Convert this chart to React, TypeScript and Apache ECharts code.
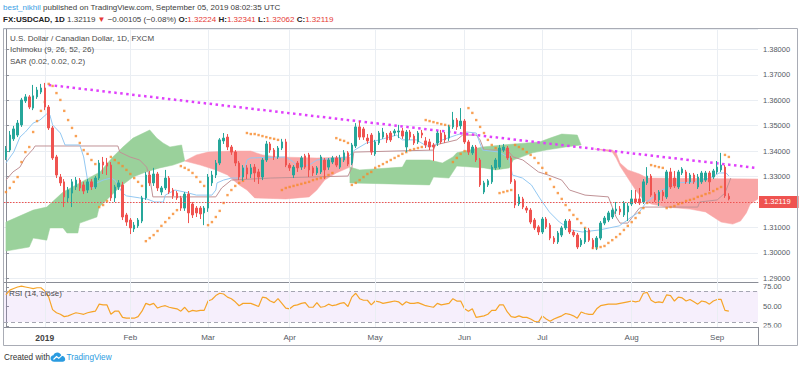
import React, { useEffect, useRef } from "react";
import * as echarts from "echarts";

const FONT = '"Liberation Sans", Arial, sans-serif';

// ---------- axis / tick data ----------
const slotCount = 194;
const categories = Array.from({ length: slotCount }, (_, i) => `d${i}`);
const monthTickIndex = [10, 32, 52, 73, 95, 118, 138, 161, 183];
const monthTickLabels = ["2019", "Feb", "Mar", "Apr", "May", "Jun", "Jul", "Aug", "Sep"];
const rsiTicks = [25, 50, 75];
const lastPrice = 1.32119;

// ---------- candles: [open, close, low, high] ----------
const candles = [
  [1.3377,1.3408,1.3365,1.3420],[1.3404,1.3463,1.3396,1.3479],[1.3448,1.3487,1.3440,1.3499],[1.3463,1.3510,1.3455,1.3522],
  [1.3503,1.3601,1.3495,1.3609],[1.3597,1.3613,1.3589,1.3624],[1.3613,1.3573,1.3565,1.3620],[1.3569,1.3617,1.3561,1.3660],
  [1.3613,1.3640,1.3605,1.3652],[1.3632,1.3648,1.3624,1.3664],[1.3648,1.3573,1.3561,1.3668],[1.3573,1.3491,1.3483,1.3581],
  [1.3491,1.3373,1.3365,1.3499],[1.3377,1.3306,1.3294,1.3385],[1.3298,1.3275,1.3263,1.3310],[1.3279,1.3220,1.3180,1.3290],
  [1.3216,1.3247,1.3200,1.3259],[1.3235,1.3279,1.3180,1.3290],[1.3259,1.3286,1.3247,1.3298],[1.3286,1.3255,1.3243,1.3294],
  [1.3267,1.3243,1.3231,1.3279],[1.3247,1.3279,1.3235,1.3290],[1.3279,1.3259,1.3247,1.3290],[1.3259,1.3294,1.3251,1.3302],
  [1.3294,1.3353,1.3286,1.3365],[1.3357,1.3345,1.3310,1.3377],[1.3353,1.3341,1.3306,1.3373],[1.3345,1.3216,1.3204,1.3357],
  [1.3216,1.3259,1.3200,1.3267],[1.3259,1.3275,1.3247,1.3286],[1.3267,1.3141,1.3129,1.3279],[1.3149,1.3121,1.3106,1.3157],
  [1.3129,1.3098,1.3074,1.3137],[1.3094,1.3109,1.3082,1.3121],[1.3106,1.3129,1.3098,1.3137],[1.3125,1.3216,1.3117,1.3224],
  [1.3216,1.3306,1.3208,1.3318],[1.3306,1.3275,1.3263,1.3322],[1.3275,1.3310,1.3263,1.3334],[1.3310,1.3255,1.3243,1.3318],
  [1.3239,1.3255,1.3227,1.3263],[1.3255,1.3294,1.3247,1.3326],[1.3294,1.3239,1.3231,1.3302],[1.3247,1.3224,1.3212,1.3255],
  [1.3235,1.3216,1.3208,1.3243],[1.3216,1.3176,1.3165,1.3224],[1.3176,1.3231,1.3165,1.3239],[1.3231,1.3157,1.3117,1.3243],
  [1.3192,1.3149,1.3137,1.3200],[1.3176,1.3157,1.3141,1.3184],[1.3176,1.3153,1.3133,1.3184],[1.3157,1.3176,1.3109,1.3184],
  [1.3176,1.3298,1.3161,1.3310],[1.3275,1.3306,1.3263,1.3322],[1.3306,1.3353,1.3294,1.3365],[1.3353,1.3444,1.3345,1.3451],
  [1.3440,1.3451,1.3428,1.3471],[1.3455,1.3416,1.3404,1.3467],[1.3416,1.3396,1.3385,1.3424],[1.3396,1.3353,1.3341,1.3404],
  [1.3353,1.3298,1.3286,1.3361],[1.3298,1.3334,1.3283,1.3345],[1.3334,1.3310,1.3290,1.3345],[1.3310,1.3334,1.3294,1.3349],
  [1.3337,1.3314,1.3279,1.3349],[1.3318,1.3298,1.3271,1.3330],[1.3298,1.3365,1.3286,1.3373],[1.3365,1.3428,1.3357,1.3440],
  [1.3428,1.3404,1.3393,1.3436],[1.3404,1.3377,1.3365,1.3412],[1.3377,1.3412,1.3369,1.3420],[1.3412,1.3436,1.3404,1.3448],
  [1.3436,1.3345,1.3337,1.3448],[1.3345,1.3334,1.3322,1.3353],[1.3306,1.3337,1.3294,1.3345],[1.3353,1.3334,1.3318,1.3361],
  [1.3337,1.3373,1.3326,1.3381],[1.3381,1.3337,1.3330,1.3389],[1.3385,1.3326,1.3298,1.3393],[1.3334,1.3314,1.3302,1.3341],
  [1.3314,1.3334,1.3306,1.3341],[1.3318,1.3377,1.3310,1.3385],[1.3365,1.3326,1.3290,1.3373],[1.3337,1.3365,1.3326,1.3373],
  [1.3357,1.3373,1.3349,1.3381],[1.3373,1.3345,1.3337,1.3381],[1.3337,1.3373,1.3330,1.3385],[1.3365,1.3393,1.3357,1.3404],
  [1.3393,1.3349,1.3341,1.3400],[1.3353,1.3424,1.3345,1.3432],[1.3420,1.3495,1.3412,1.3510],[1.3495,1.3455,1.3444,1.3518],
  [1.3487,1.3455,1.3444,1.3495],[1.3451,1.3440,1.3428,1.3467],[1.3463,1.3396,1.3385,1.3471],[1.3389,1.3436,1.3381,1.3444],
  [1.3432,1.3471,1.3424,1.3479],[1.3455,1.3475,1.3448,1.3491],[1.3463,1.3444,1.3432,1.3471],[1.3471,1.3444,1.3436,1.3479],
  [1.3471,1.3479,1.3459,1.3487],[1.3475,1.3479,1.3451,1.3503],[1.3479,1.3459,1.3448,1.3491],[1.3416,1.3475,1.3396,1.3483],
  [1.3475,1.3455,1.3444,1.3483],[1.3459,1.3432,1.3424,1.3467],[1.3436,1.3471,1.3428,1.3479],[1.3471,1.3463,1.3451,1.3483],
  [1.3440,1.3424,1.3412,1.3455],[1.3436,1.3416,1.3404,1.3448],[1.3424,1.3416,1.3361,1.3432],[1.3432,1.3471,1.3420,1.3479],
  [1.3471,1.3436,1.3428,1.3483],[1.3463,1.3444,1.3432,1.3475],[1.3451,1.3495,1.3440,1.3503],[1.3495,1.3522,1.3487,1.3554],
  [1.3522,1.3495,1.3483,1.3530],[1.3499,1.3518,1.3487,1.3569],[1.3518,1.3436,1.3428,1.3526],[1.3436,1.3396,1.3385,1.3444],
  [1.3393,1.3416,1.3385,1.3424],[1.3416,1.3365,1.3357,1.3424],[1.3365,1.3267,1.3259,1.3373],[1.3239,1.3275,1.3231,1.3283],
  [1.3267,1.3283,1.3259,1.3290],[1.3279,1.3337,1.3271,1.3345],[1.3334,1.3365,1.3326,1.3373],[1.3337,1.3412,1.3330,1.3424],
  [1.3404,1.3416,1.3396,1.3428],[1.3412,1.3373,1.3365,1.3420],[1.3373,1.3279,1.3271,1.3381],[1.3283,1.3188,1.3176,1.3290],
  [1.3192,1.3220,1.3184,1.3231],[1.3212,1.3180,1.3172,1.3220],[1.3176,1.3168,1.3157,1.3184],[1.3168,1.3121,1.3113,1.3176],
  [1.3129,1.3098,1.3090,1.3137],[1.3102,1.3082,1.3070,1.3109],[1.3082,1.3133,1.3074,1.3141],[1.3133,1.3102,1.3094,1.3141],
  [1.3109,1.3058,1.3050,1.3117],[1.3058,1.3043,1.3035,1.3066],[1.3043,1.3078,1.3035,1.3086],[1.3070,1.3098,1.3062,1.3106],
  [1.3098,1.3125,1.3090,1.3133],[1.3125,1.3082,1.3074,1.3133],[1.3082,1.3070,1.3062,1.3090],[1.3070,1.3023,1.3015,1.3078],
  [1.3031,1.3050,1.3023,1.3058],[1.3043,1.3090,1.3035,1.3098],[1.3090,1.3050,1.3043,1.3098],[1.3050,1.3023,1.3015,1.3058],
  [1.3023,1.3058,1.3011,1.3066],[1.3058,1.3117,1.3050,1.3125],[1.3117,1.3137,1.3109,1.3145],[1.3129,1.3157,1.3121,1.3165],
  [1.3141,1.3168,1.3133,1.3176],[1.3165,1.3172,1.3153,1.3200],[1.3172,1.3161,1.3149,1.3184],[1.3149,1.3196,1.3141,1.3204],
  [1.3161,1.3184,1.3125,1.3196],[1.3192,1.3212,1.3184,1.3247],[1.3212,1.3200,1.3192,1.3247],[1.3212,1.3196,1.3188,1.3255],
  [1.3200,1.3279,1.3192,1.3290],[1.3275,1.3302,1.3267,1.3337],[1.3302,1.3227,1.3220,1.3310],[1.3231,1.3208,1.3200,1.3239],
  [1.3208,1.3239,1.3184,1.3247],[1.3239,1.3224,1.3204,1.3247],[1.3220,1.3318,1.3212,1.3326],[1.3318,1.3259,1.3251,1.3334],
  [1.3294,1.3263,1.3255,1.3322],[1.3259,1.3318,1.3251,1.3326],[1.3314,1.3330,1.3306,1.3337],[1.3318,1.3279,1.3271,1.3326],
  [1.3279,1.3306,1.3271,1.3314],[1.3306,1.3279,1.3271,1.3314],[1.3259,1.3298,1.3251,1.3310],[1.3279,1.3314,1.3271,1.3322],
  [1.3286,1.3314,1.3279,1.3322],[1.3314,1.3279,1.3243,1.3322],[1.3298,1.3322,1.3290,1.3330],[1.3318,1.3337,1.3310,1.3361],
  [1.3326,1.3345,1.3318,1.3393],[1.3337,1.3224,1.3216,1.3345],[1.32224,1.32119,1.32062,1.32341],
];

// ---------- Parabolic SAR (one value per candle) ----------
const sar = [
  1.3239,1.3255,1.3279,1.3298,1.3357,1.3396,1.3416,1.3475,1.3518,1.3558,1.3593,
  1.3664,1.3656,1.3628,1.3601,1.3558,1.3522,1.3491,1.3459,1.3432,1.3404,1.3389,1.3365,1.3349,
  1.3180,1.3188,1.3204,
  1.3377,1.3365,1.3353,1.3341,1.3326,1.3310,1.3294,1.3279,1.3263,
  1.3046,1.3058,1.3070,1.3086,1.3106,1.3121,1.3137,1.3153,1.3168,
  1.3341,1.3334,1.3326,1.3314,1.3298,1.3279,1.3263,
  1.3109,1.3121,1.3141,1.3165,1.3196,1.3227,1.3247,1.3263,1.3275,1.3283,
  1.3471,1.3467,1.3467,1.3463,1.3459,1.3455,1.3451,1.3448,1.3444,
  1.3247,1.3255,1.3259,1.3263,1.3267,1.3271,1.3275,1.3279,1.3286,1.3290,1.3294,1.3298,1.3306,1.3314,
  1.3451,1.3444,1.3440,1.3432,
  1.3267,1.3275,1.3286,1.3298,1.3310,1.3318,1.3334,1.3341,1.3349,1.3357,1.3365,1.3373,1.3381,1.3389,1.3396,1.3404,1.3408,1.3412,1.3416,
  1.3522,1.3518,1.3514,1.3510,1.3506,1.3503,1.3499,
  1.3357,1.3373,1.3389,1.3400,
  1.3569,1.3550,1.3522,1.3495,1.3471,1.3444,1.3424,1.3412,
  1.3235,1.3239,1.3243,1.3247,
  1.3424,1.3416,1.3408,1.3396,1.3385,1.3373,1.3353,1.3334,1.3314,1.3290,1.3259,1.3235,1.3212,1.3188,1.3168,1.3149,1.3133,1.3117,1.3098,1.3082,
  1.3019,1.3019,1.3023,1.3027,1.3039,1.3050,1.3062,1.3074,1.3090,1.3106,1.3121,1.3137,1.3157,1.3176,1.3196,
  1.3345,1.3341,1.3337,1.3334,
  1.3176,1.3180,1.3184,1.3192,1.3196,1.3204,1.3208,1.3212,1.3220,1.3224,1.3231,1.3235,1.3243,1.3251,1.3259,
  1.3385,1.3377,
];

// ---------- RSI (14, close) ----------
const rsi = [
  65,71,73,75,76,75,74,73,74,74,70,62,46,42,40,37,38,40,42,41,
  40,42,43,44,53,52,52,40,44,44,36,35,35,35,37,44,54,52,54,48,
  50,51,49,48,47,44,49,43,45,44,45,45,57,59,64,67,66,62,60,56,
  51,54,54,54,52,50,62,61,57,55,60,54,48,47,51,52,54,55,49,49,
  55,49,50,53,51,52,54,55,50,62,67,60,58,58,52,57,56,54,55,56,
  57,56,52,56,54,54,55,53,51,50,49,54,52,53,54,60,57,57,47,44,
  47,36,37,38,40,45,45,52,52,43,37,36,38,36,36,34,31,30,38,34,
  31,34,36,38,41,40,38,35,43,41,40,40,47,51,52,53,53,53,54,55,
  56,57,56,57,67,68,58,55,56,55,65,64,57,62,61,57,59,56,53,57,
  56,53,57,59,59,45,44,
];

// ---------- Ichimoku lines: [bar index, price] ----------
const tenkan = [
  [0,1.3353],[2,1.3396],[3.6,1.3455],[5,1.3475],[7,1.3510],[8.75,1.3522],[10.5,1.3546],[11.3,1.3542],[12,1.3503],
  [14,1.3471],[15.2,1.3424],[19,1.3424],[20,1.3377],[21,1.3286],[22.4,1.3255],[23.4,1.3275],[25,1.3286],[27,1.3294],
  [28,1.3286],[30,1.3235],[31,1.3224],[34.4,1.3216],[36.2,1.3212],[38.3,1.3200],[40.5,1.3200],[41,1.3227],[43.5,1.3247],
  [46,1.3239],[49,1.3227],[53,1.3227],[54,1.3247],[54.3,1.3275],[56,1.3286],[58,1.3294],[60,1.3294],[61,1.3306],
  [62,1.3365],[63,1.3373],[72,1.3377],[74,1.3357],[75,1.3341],[78,1.3345],[80,1.3365],[88,1.3377],[89.7,1.3404],
  [92.8,1.3432],[96.1,1.3444],[100.5,1.3463],[102,1.3444],[105.6,1.3444],[108.2,1.3420],[109.8,1.3420],[112.3,1.3444],
  [115.9,1.3463],[118.5,1.3475],[121,1.3471],[122.6,1.3404],[127,1.3396],[129.5,1.3373],[130.3,1.3306],[132.9,1.3294],
  [135.2,1.3267],[137.3,1.3216],[139.8,1.3161],[142.4,1.3121],[145.5,1.3090],[148.3,1.3082],[152.7,1.3090],[155.2,1.3098],
  [157.8,1.3106],[159.9,1.3129],[160.9,1.3141],[163,1.3161],[164.8,1.3200],[166.3,1.3216],[168.9,1.3247],[172.5,1.3275],
  [177.6,1.3279],[179.1,1.3286],[181.7,1.3298],[183.5,1.3314],[185.3,1.3314],[186,1.3302],
];
const kijun = [
  [0,1.3286],[1.8,1.3318],[3.6,1.3337],[4.9,1.3373],[7,1.3408],[7.5,1.3420],[28.8,1.3420],[29.3,1.3396],[31.9,1.3377],
  [34.4,1.3365],[36.2,1.3337],[37,1.3298],[37.8,1.3220],[54,1.3220],[55.5,1.3255],[58,1.3286],[68,1.3294],[88,1.3302],
  [89,1.3334],[89.5,1.3396],[110,1.3404],[110.5,1.3424],[116,1.3444],[117.5,1.3463],[121,1.3463],[122,1.3444],[123,1.3404],
  [129,1.3404],[130.5,1.3377],[133,1.3365],[137,1.3318],[139.5,1.3306],[143,1.3286],[145,1.3247],[149,1.3227],[155,1.3220],
  [156,1.3180],[157,1.3141],[158,1.3117],[160,1.3117],[161,1.3137],[163,1.3176],[164.5,1.3180],[178,1.3180],[178.5,1.3200],
  [183,1.3208],[185,1.3235],[186.5,1.3294],
];

// ---------- Ichimoku cloud edges: [bar index, price] ----------
const cloudGreen1Upper = [[0,1.3121],[7,1.3168],[10.5,1.3180],[14.7,1.3239],[19,1.3275],[24.2,1.3318],[27.5,1.3377],[30.1,1.3416],[32.7,1.3451],[37,1.3483],[38.8,1.3451],[40.4,1.3432],[42.2,1.3416],[45.2,1.3424],[46,1.3361]];
const cloudGreen1Lower = [[0,1.3007],[6,1.3023],[7,1.3058],[10.5,1.3050],[11.3,1.3098],[14.7,1.3098],[15.7,1.3078],[18.5,1.3078],[19,1.3117],[23.4,1.3141],[24,1.3180],[26.7,1.3220],[29.3,1.3259],[32.7,1.3298],[36,1.3318],[39.6,1.3334],[43,1.3345],[46,1.3361]];
const cloudRed1Upper = [[46,1.3361],[49,1.3385],[52,1.3396],[58,1.3400],[63,1.3400],[66,1.3385],[70,1.3377],[80,1.3373],[88.5,1.3377]];
const cloudRed1Lower = [[46,1.3361],[50,1.3345],[54,1.3326],[57,1.3306],[60,1.3267],[62,1.3247],[64,1.3216],[72,1.3212],[78,1.3220],[80,1.3247],[82,1.3286],[85,1.3314],[88.5,1.3337]];
const cloudGreen2Upper = [[88.5,1.3337],[91,1.3326],[102,1.3337],[103,1.3365],[109,1.3365],[112.3,1.3353],[115,1.3377],[116,1.3393],[122.6,1.3416],[127.8,1.3424],[137.3,1.3436],[140,1.3451],[143,1.3467],[147,1.3463],[148,1.3424]];
const cloudGreen2Lower = [[88.5,1.3275],[109,1.3267],[110,1.3298],[114,1.3294],[116,1.3341],[123,1.3334],[126,1.3326],[129.5,1.3334],[130.5,1.3365],[135.5,1.3393],[139,1.3404],[144,1.3416],[148,1.3424]];
const cloudRed2Upper = [[151.5,1.3408],[156,1.3404],[157,1.3393],[158,1.3353],[160,1.3326],[163,1.3310],[165,1.3294],[193.5,1.3290]];
const cloudRed2Lower = [[151.5,1.3408],[156,1.3396],[157,1.3373],[158,1.3341],[160,1.3294],[162,1.3247],[164,1.3208],[166,1.3192],[170,1.3180],[176,1.3172],[180,1.3161],[182,1.3141],[184,1.3121],[187,1.3113],[189,1.3125],[190.5,1.3157],[191.5,1.3192],[193.5,1.3212]];

// ---------- trend line ----------
const trendLine = [[11, 1.366], [193, 1.3334]];

const GREEN_CLOUD = "#9ad19b";
const RED_CLOUD = "#f9a6a6";
const cloudSegments = [
  { upper: cloudGreen1Upper, lower: cloudGreen1Lower, color: GREEN_CLOUD },
  { upper: cloudRed1Upper, lower: cloudRed1Lower, color: RED_CLOUD },
  { upper: cloudGreen2Upper, lower: cloudGreen2Lower, color: GREEN_CLOUD },
  { upper: cloudRed2Upper, lower: cloudRed2Lower, color: RED_CLOUD },
];

echarts.graphic.registerShape(
  "tvLogoCloud",
  echarts.graphic.extendPath(
    "M4 10C1.8 10 0 8.4 0 6.4C0 4.6 1.4 3.1 3.2 2.9C3.8 1.2 5.5 0 7.4 0C9.6 0 11.4 1.5 11.9 3.5C14.2 3.5 16 5.2 16 7.3C16 8.8 14.8 10 13.3 10Z",
    {}
  )
);

const AXIS_COLOR = "#8a8d96";
const GRID_COLOR = "#eaeef3";
const LABEL_COLOR = "#555a63";
const TEXT_COLOR = "#3c3c3c";

function txt(text: string, x: number, y: number, extra: any = {}) {
  return {
    type: "text",
    x,
    y,
    silent: true,
    z: 70,
    style: {
      text,
      fill: extra.fill || TEXT_COLOR,
      fontSize: extra.fontSize || 8,
      fontFamily: FONT,
      fontWeight: extra.fontWeight || "normal",
      verticalAlign: "middle",
      align: "left",
      rich: extra.rich,
    },
  };
}

export default function App() {
  const ref = useRef<HTMLDivElement>(null);

  useEffect(() => {
    if (!ref.current) return;
    const chart = echarts.init(ref.current, null, { renderer: "svg", width: 800, height: 368 });
    const rich8 = (o: any) => ({ fontSize: 8, fontFamily: FONT, ...o });

    const option: any = {
      animation: false,
      backgroundColor: "#ffffff",
      textStyle: { fontFamily: FONT },
      grid: [
        { left: 4, right: 42, top: 29, height: 253 },
        { left: 4, right: 42, top: 282, height: 45 },
      ],
      xAxis: [
        {
          type: "category", gridIndex: 0, data: categories, boundaryGap: true,
          axisLine: { show: true, onZero: false, lineStyle: { color: AXIS_COLOR } },
          axisTick: { show: false }, axisLabel: { show: false }, splitLine: { show: false },
        },
        { type: "value", gridIndex: 0, min: -0.5, max: slotCount - 0.5, show: false },
        {
          type: "category", gridIndex: 1, data: categories, boundaryGap: true,
          axisLine: { show: true, onZero: false, lineStyle: { color: AXIS_COLOR } },
          axisTick: { show: false },
          axisLabel: {
            interval: (i: number) => monthTickIndex.includes(i),
            formatter: (_v: string, i: number) => {
              const k = monthTickIndex.indexOf(i);
              if (k < 0) return "";
              return k === 0 ? `{y|${monthTickLabels[k]}}` : monthTickLabels[k];
            },
            fontSize: 8, color: LABEL_COLOR, margin: 6,
            rich: { y: { fontWeight: "bold", fontSize: 8.5, color: "#444" } },
          },
          splitLine: { show: false },
        },
        { type: "value", gridIndex: 1, min: -0.5, max: slotCount - 0.5, show: false },
      ],
      yAxis: [
        {
          type: "value", gridIndex: 0, position: "right", min: 1.28855, max: 1.38798, splitNumber: 10,
          axisLine: { show: true, lineStyle: { color: AXIS_COLOR } },
          axisTick: { show: true, length: 3, lineStyle: { color: AXIS_COLOR } },
          axisLabel: {
            formatter: (v: number) => v.toFixed(5), fontSize: 7.5, color: LABEL_COLOR, margin: 5,
            showMinLabel: false, showMaxLabel: false,
          },
          splitLine: { show: true, lineStyle: { color: GRID_COLOR, width: 1 } },
        },
        {
          type: "value", gridIndex: 1, position: "right", min: 23.7, max: 81.4,
          axisLine: { show: true, lineStyle: { color: AXIS_COLOR } },
          axisTick: { show: true, length: 3, customValues: rsiTicks, lineStyle: { color: AXIS_COLOR } },
          axisLabel: { customValues: rsiTicks, formatter: (v: number) => v.toFixed(2), fontSize: 7.5, color: LABEL_COLOR, margin: 5 },
          splitLine: { show: false },
        },
      ],
      series: [
        {
          name: "gridMain", type: "line", xAxisIndex: 1, yAxisIndex: 0, data: [[-5, 1.2]], symbol: "none", z: 0, silent: true,
          lineStyle: { width: 0 },
          markLine: {
            silent: true, symbol: ["none", "none"], label: { show: false }, z: 0,
            lineStyle: { color: GRID_COLOR, width: 1, type: "solid" },
            data: monthTickIndex.map((i) => ({ xAxis: i })),
          },
        },
        {
          name: "rsiBand", type: "line", xAxisIndex: 3, yAxisIndex: 1, data: [[-5, 0]], symbol: "none", z: 0, silent: true,
          lineStyle: { width: 0 },
          markArea: { silent: true, itemStyle: { color: "rgba(170,110,230,0.11)" }, data: [[{ yAxis: 30 }, { yAxis: 70 }]] },
          markLine: {
            silent: true, symbol: ["none", "none"], label: { show: false },
            lineStyle: { color: GRID_COLOR, width: 1, type: "solid" },
            data: monthTickIndex.map((i) => ({ xAxis: i })),
          },
        },
        {
          name: "rsiLevels", type: "line", xAxisIndex: 3, yAxisIndex: 1, data: [[-5, 0]], symbol: "none", z: 1, silent: true,
          lineStyle: { width: 0 },
          markLine: {
            silent: true, symbol: ["none", "none"], label: { show: false },
            lineStyle: { color: "#a5a6b2", width: 1, type: [4, 3] },
            data: [{ yAxis: 70 }, { yAxis: 30 }],
          },
        },
        {
          name: "cloud", type: "custom", xAxisIndex: 1, yAxisIndex: 0, z: 1, silent: true, clip: true,
          data: cloudSegments.map((s) => [s.upper[0][0], s.upper[0][1]]),
          renderItem: (params: any, api: any) => {
            const seg = cloudSegments[params.dataIndex];
            const pts = [...seg.upper, ...seg.lower.slice().reverse()].map((p) => api.coord(p));
            return { type: "polygon", shape: { points: pts }, style: { fill: seg.color, stroke: seg.color, lineWidth: 0.5 } };
          },
        },
        {
          name: "Kijun", type: "line", xAxisIndex: 1, yAxisIndex: 0, data: kijun, symbol: "none", z: 3, silent: true,
          lineStyle: { color: "#c09296", width: 1 },
        },
        {
          name: "Tenkan", type: "line", xAxisIndex: 1, yAxisIndex: 0, data: tenkan, symbol: "none", z: 3, silent: true,
          lineStyle: { color: "#93c8f2", width: 1 },
        },
        {
          name: "Trend", type: "line", xAxisIndex: 1, yAxisIndex: 0, data: trendLine, symbol: "none", z: 4, silent: true,
          lineStyle: { color: "#e040fb", width: 2.5, type: [2.5, 3.5] },
        },
        {
          name: "SAR", type: "scatter", xAxisIndex: 0, yAxisIndex: 0, data: sar, symbol: "rect", symbolSize: 2.4, z: 4,
          silent: true, itemStyle: { color: "#f7892a" },
        },
        {
          name: "USDCAD", type: "candlestick", xAxisIndex: 0, yAxisIndex: 0, data: candles, barWidth: 2, z: 5, silent: true,
          itemStyle: { color: "#26a69a", color0: "#ef5350", borderColor: "#26a69a", borderColor0: "#ef5350", borderWidth: 1 },
          markLine: {
            silent: true, symbol: ["none", "none"], z: 6,
            lineStyle: { color: "#ef5350", width: 1, type: [1.5, 1.5] },
            label: {
              show: true, position: "end", distance: 1, formatter: lastPrice.toFixed(5),
              backgroundColor: "#ef5350", color: "#ffffff", fontSize: 7.5, padding: [2, 8, 2, 5],
            },
            data: [{ yAxis: lastPrice }],
          },
        },
        {
          name: "RSI", type: "line", xAxisIndex: 2, yAxisIndex: 1, data: rsi, symbol: "none", z: 3, silent: true,
          lineStyle: { color: "#f6a428", width: 1.2 },
        },
      ],
      graphic: [
        { type: "rect", shape: { x: 759, y: 327.5, width: 38, height: 17 }, style: { fill: "#ffffff" }, z: 50, silent: true },
        { type: "rect", shape: { x: 3.5, y: 28.5, width: 794, height: 317 }, style: { fill: "none", stroke: "#a9acb5", lineWidth: 1 }, z: 60, silent: true },
        { type: "line", shape: { x1: 758.5, y1: 327, x2: 758.5, y2: 345 }, style: { stroke: AXIS_COLOR, lineWidth: 1 }, z: 60, silent: true },
        txt("{u|best_nikhil} published on TradingView.com, September 05, 2019 08:02:35 UTC", 3, 7, {
          rich: { u: rich8({ fill: "#3a9ee4" }) },
        }),
        txt(
          "{b|FX:USDCAD, 1D} 1.32119 {r|▼} −0.00105 (−0.08%) {b|O:}{r|1.32224} {b|H:}{r|1.32341} {b|L:}{r|1.32062} {b|C:}{r|1.32119}",
          3, 19,
          { rich: { b: rich8({ fontWeight: "bold", fill: "#222" }), r: rich8({ fill: "#e53935" }) } }
        ),
        txt("U.S. Dollar / Canadian Dollar, 1D, FXCM", 10, 38, { fill: "#4a4a4a" }),
        txt("Ichimoku (9, 26, 52, 26)", 10, 49.5, { fill: "#4a4a4a" }),
        txt("SAR (0.02, 0.02, 0.2)", 10, 61, { fill: "#4a4a4a" }),
        txt("RSI (14, close)", 9, 293.5, { fill: "#4a4a4a" }),
        txt("Created with", 4, 357, { fill: "#333333", fontSize: 8.2 }),
        { type: "tvLogoCloud", x: 50.5, y: 352.5, scaleX: 0.92, scaleY: 0.92, style: { fill: "#2a9be0" }, z: 70, silent: true },
        {
          type: "polyline", shape: { points: [[53.5, 359.5], [56.5, 356.5], [58.8, 358.3], [62.5, 354.8]] },
          style: { stroke: "#ffffff", lineWidth: 1.1, fill: "none" }, z: 71, silent: true,
        },
        txt("TradingView", 66.5, 357, { fill: "#2a9be0", fontSize: 8.2 }),
      ],
    };

    chart.setOption(option);
    return () => chart.dispose();
  }, []);

  return (
    <div
      ref={ref}
      style={{ position: "absolute", left: 0, top: 0, width: 800, height: 368, background: "#ffffff" }}
    />
  );
}
